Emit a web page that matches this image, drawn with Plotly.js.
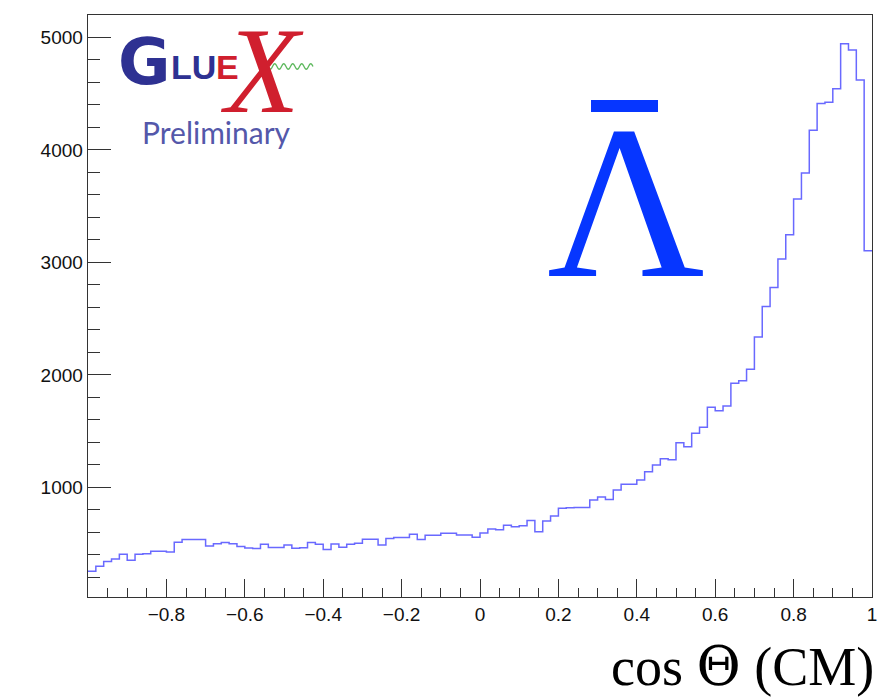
<!DOCTYPE html>
<html>
<head>
<meta charset="utf-8">
<script src="https://cdn.plot.ly/plotly-3.0.1.min.js"></script>
<style>
html,body{margin:0;padding:0;background:#fff;}
#chart{width:882px;height:699px;}
</style>
</head>
<body>
<div id="chart"></div>
<script>
// ---- data (100 bins over [-1, 1]) ----
const counts = [
  255, 298, 340, 362, 406, 352, 406, 410, 432, 432,
  425, 512, 537, 537, 537, 478, 498, 510, 498, 473,
  460, 457, 495, 466, 466, 488, 459, 462, 510, 493,
  448, 496, 468, 493, 503, 538, 538, 488, 546, 553,
  553, 582, 537, 575, 575, 592, 592, 577, 577, 557,
  593, 630, 622, 664, 649, 658, 706, 606, 700, 746,
  815, 818, 820, 820, 887, 914, 893, 976, 1028, 1028,
  1065, 1139, 1199, 1255, 1245, 1397, 1362, 1481, 1534, 1712,
  1680, 1724, 1926, 1947, 2051, 2336, 2608, 2777, 3030, 3247,
  3565, 3796, 4176, 4413, 4425, 4544, 4945, 4888, 4621, 3103
];
const xMin = -1;
const xMax = 1;
const xTickVals = [-0.8, -0.6, -0.4, -0.2, 0, 0.2, 0.4, 0.6, 0.8, 1];
const xTickText = ['\u22120.8', '\u22120.6', '\u22120.4', '\u22120.2', '0', '0.2', '0.4', '0.6', '0.8', '1'];
const yTickVals = [1000, 2000, 3000, 4000, 5000];
const yTickText = ['1000', '2000', '3000', '4000', '5000'];
const xTitleParts = ['cos ', '\u0398', ' (CM)'];
const particleText = '\u039B';
const logoG = 'G';
const logoLU = 'LU';
const logoE = 'E';
const logoX = 'X';
const logoPrelim = 'Preliminary';

// ---- build histogram step line from bin contents ----
const nb = counts.length;
const bw = (xMax - xMin) / nb;
const xs = [], ys = [];
for (let i = 0; i < nb; i++) { xs.push(xMin + i * bw); ys.push(counts[i]); }
xs.push(xMax); ys.push(counts[nb - 1]);

// ---- helpers for decoration placement (pixel -> paper) ----
const L = 88, R = 10, T = 15, B = 102, W = 882, H = 699;
const PW = W - L - R, PH = H - T - B;
const px = v => (v - L) / PW;
const py = v => (H - B - v) / PH;

// green wavy line of the logo
let wave = '';
const wx0 = 268, wx1 = 313, wy = 66.5, amp = 2.8, cycles = 5;
for (let k = 0; k <= 60; k++) {
  const t = k / 60;
  const X = wx0 + (wx1 - wx0) * t;
  const Y = wy + amp * Math.sin(t * cycles * 2 * Math.PI);
  wave += (k === 0 ? 'M ' : ' L ') + px(X).toFixed(5) + ' ' + py(Y).toFixed(5);
}

const trace = {
  x: xs, y: ys, type: 'scatter', mode: 'lines',
  line: {shape: 'hv', color: 'rgb(105,105,255)', width: 1.5},
  hoverinfo: 'skip', showlegend: false
};

const axisColor = '#333';
const tickFont = {family: 'Liberation Sans, Arial, sans-serif', size: 19, color: '#111'};

const layout = {
  width: W, height: H,
  margin: {l: L, r: R, t: T, b: B, pad: 0},
  paper_bgcolor: '#ffffff', plot_bgcolor: '#ffffff',
  showlegend: false,
  xaxis: {
    range: [xMin, xMax], tickmode: 'array', tickvals: xTickVals, ticktext: xTickText,
    ticks: 'inside', ticklen: 18, tickwidth: 1, tickcolor: axisColor,
    minor: {tickmode: 'linear', tick0: -1, dtick: 0.05, ticks: 'inside', ticklen: 9, tickwidth: 1, tickcolor: axisColor},
    showline: true, linecolor: axisColor, linewidth: 1.3, mirror: true,
    showgrid: false, zeroline: false, tickfont: tickFont
  },
  yaxis: {
    range: [25, 5200], tickmode: 'array', tickvals: yTickVals, ticktext: yTickText,
    ticks: 'inside', ticklen: 23, tickwidth: 1, tickcolor: axisColor,
    minor: {tickmode: 'linear', tick0: 0, dtick: 200, ticks: 'inside', ticklen: 12, tickwidth: 1, tickcolor: axisColor},
    showline: true, linecolor: axisColor, linewidth: 1.3, mirror: true,
    showgrid: false, zeroline: false, tickfont: tickFont
  },
  shapes: [
    {type: 'rect', xref: 'paper', yref: 'paper', x0: px(591), x1: px(658), y0: py(112), y1: py(100),
     fillcolor: '#0636ff', line: {width: 0}},
    {type: 'path', xref: 'paper', yref: 'paper', path: wave, line: {color: '#5cb85c', width: 1.3}}
  ],
  annotations: [
    {xref: 'paper', yref: 'paper', x: px(876), y: py(666), xanchor: 'right', yanchor: 'middle',
     text: xTitleParts[0] + '<span style="font-family:DejaVu Serif">' + xTitleParts[1] + '</span>' + xTitleParts[2],
     showarrow: false,
     font: {family: 'Liberation Serif, Times New Roman, serif', size: 54, color: '#000'}},
    {xref: 'paper', yref: 'paper', x: px(626), y: py(203), xanchor: 'center', yanchor: 'middle',
     text: particleText, showarrow: false,
     font: {family: 'Liberation Serif, Times New Roman, serif', size: 218, color: '#0636ff'}},
    {xref: 'paper', yref: 'paper', x: px(144), y: py(62), xanchor: 'center', yanchor: 'middle',
     text: '<b>' + logoG + '</b>', showarrow: false,
     font: {family: 'DejaVu Sans, sans-serif', size: 64, color: '#2e3192'}},
    {xref: 'paper', yref: 'paper', x: px(193), y: py(67), xanchor: 'center', yanchor: 'middle',
     text: '<b>' + logoLU + '</b>', showarrow: false,
     font: {family: 'Liberation Sans, sans-serif', size: 34, color: '#2e3192'}},
    {xref: 'paper', yref: 'paper', x: px(227), y: py(67), xanchor: 'center', yanchor: 'middle',
     text: '<b>' + logoE + '</b>', showarrow: false,
     font: {family: 'Liberation Sans, sans-serif', size: 34, color: '#d01f2e'}},
    {xref: 'paper', yref: 'paper', x: px(262), y: py(70), xanchor: 'center', yanchor: 'middle',
     text: '<i>' + logoX + '</i>', showarrow: false,
     font: {family: 'Liberation Serif, serif', size: 122, color: '#d01f2e'}},
    {xref: 'paper', yref: 'paper', x: px(216), y: py(132), xanchor: 'center', yanchor: 'middle',
     text: logoPrelim, showarrow: false,
     font: {family: 'Lato, Open Sans, sans-serif', size: 30, color: '#5458aa'}}
  ]
};

Plotly.newPlot('chart', [trace], layout, {staticPlot: true, displayModeBar: false});
</script>
</body>
</html>
